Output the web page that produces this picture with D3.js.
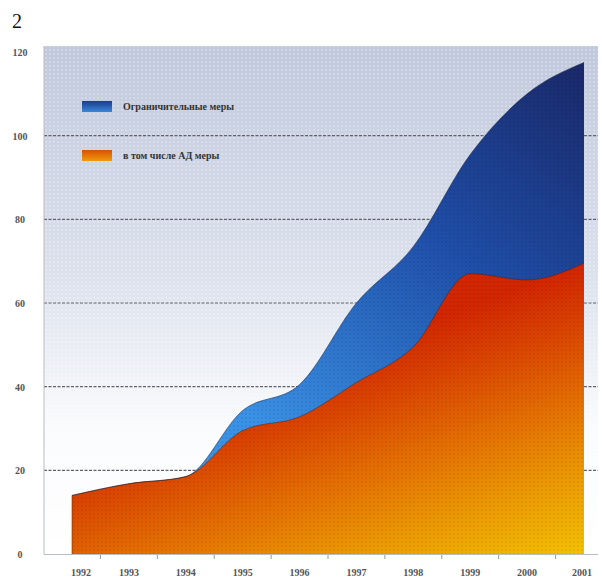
<!DOCTYPE html>
<html><head><meta charset="utf-8">
<script src="https://cdn.jsdelivr.net/npm/d3@7"></script>
<style>html,body{margin:0;padding:0;background:#fff;} svg{display:block;}</style>
</head><body>
<script>
const years = [1992,1993,1994,1995,1996,1997,1998,1999,2000,2001];
const totalMeasures = [14,16.8,18.5,34.3,40.5,60,73.5,95.5,110,117.5];
const adMeasures    = [14,16.8,18.5,29.5,32.8,41,49.5,67,65.5,69.5];
const yTicks = [0,20,40,60,80,100,120];
const legendLabels = ["Ограничительные меры","в том числе АД меры"];
const pageLabel = "2";

const W = 602, H = 579;
const svg = d3.select("body").append("svg").attr("width", W).attr("height", H);
const defs = svg.append("defs");

const x = d3.scalePoint().domain(years).range([72, 584]);
const y = d3.scaleLinear().domain([0, 120]).range([554, 52]);
const plotL = 44, plotR = 598, plotT = 46;

// gradients
const bg = defs.append("linearGradient").attr("id","bg").attr("gradientUnits","userSpaceOnUse")
  .attr("x1",0).attr("y1",plotT).attr("x2",0).attr("y2",y(0));
bg.append("stop").attr("offset","0").attr("stop-color","#c0c8dc");
bg.append("stop").attr("offset","0.45").attr("stop-color","#dce1ec");
bg.append("stop").attr("offset","0.75").attr("stop-color","#fafbfd");
bg.append("stop").attr("offset","1").attr("stop-color","#ffffff");

const gb = defs.append("linearGradient").attr("id","gblue").attr("gradientUnits","userSpaceOnUse")
  .attr("x1",560).attr("y1",60).attr("x2",260).attr("y2",430);
gb.append("stop").attr("offset","0").attr("stop-color","#1a2a6c");
gb.append("stop").attr("offset","0.45").attr("stop-color","#1f4ea8");
gb.append("stop").attr("offset","1").attr("stop-color","#3a92e6");

const gr = defs.append("linearGradient").attr("id","gred").attr("gradientUnits","userSpaceOnUse")
  .attr("x1",300).attr("y1",365).attr("x2",390).attr("y2",623);
gr.append("stop").attr("offset","0").attr("stop-color","#d22600");
gr.append("stop").attr("offset","0.2").attr("stop-color","#da4400");
gr.append("stop").attr("offset","0.45").attr("stop-color","#e46e00");
gr.append("stop").attr("offset","0.72").attr("stop-color","#ec9a00");
gr.append("stop").attr("offset","1").attr("stop-color","#f4c200");

const pat = defs.append("pattern").attr("id","dots").attr("patternUnits","userSpaceOnUse")
  .attr("width",4).attr("height",4);
pat.append("circle").attr("cx",2).attr("cy",2).attr("r",0.8).attr("fill","#ffffff").attr("opacity",0.55);
const pat2 = defs.append("pattern").attr("id","dots2").attr("patternUnits","userSpaceOnUse")
  .attr("width",4).attr("height",4);
pat2.append("circle").attr("cx",2).attr("cy",2).attr("r",0.7).attr("fill","#000").attr("opacity",0.18);

// background
svg.append("rect").attr("x",plotL).attr("y",plotT).attr("width",plotR-plotL).attr("height",y(0)-plotT).attr("fill","url(#bg)");
svg.append("rect").attr("x",plotL).attr("y",plotT).attr("width",plotR-plotL).attr("height",y(0)-plotT).attr("fill","url(#dots)");

// gridlines
svg.append("g").selectAll("line").data(yTicks.filter(d => d > 0 && d < 120)).join("line")
  .attr("x1",plotL).attr("x2",plotR).attr("y1",d=>y(d)).attr("y2",d=>y(d))
  .attr("stroke","#5f636c").attr("stroke-width",1.2).attr("stroke-dasharray","3,1.5");

// areas
const data = years.map((yr,i)=>({yr, t: totalMeasures[i], a: adMeasures[i]}));
const areaTotal = d3.area().x(d=>x(d.yr)).y0(y(0)).y1(d=>y(d.t)).curve(d3.curveMonotoneX);
const areaAd = d3.area().x(d=>x(d.yr)).y0(y(0)).y1(d=>y(d.a)).curve(d3.curveMonotoneX);
svg.append("path").datum(data).attr("d",areaTotal).attr("fill","url(#gblue)");
svg.append("path").datum(data).attr("d",areaTotal).attr("fill","url(#dots2)");
svg.append("path").datum(data).attr("d",areaAd).attr("fill","url(#gred)");
svg.append("path").datum(data).attr("d",areaAd).attr("fill","url(#dots2)");
const lineTotal = d3.line().x(d=>x(d.yr)).y(d=>y(d.t)).curve(d3.curveMonotoneX);
const lineAd = d3.line().x(d=>x(d.yr)).y(d=>y(d.a)).curve(d3.curveMonotoneX);
svg.append("path").datum(data).attr("d",lineTotal).attr("fill","none").attr("stroke","#1a2040").attr("stroke-opacity",0.5).attr("stroke-width",1);
svg.append("path").datum(data).attr("d",lineAd).attr("fill","none").attr("stroke","#402010").attr("stroke-opacity",0.45).attr("stroke-width",1);
svg.append("line").attr("x1",x(years[0])).attr("x2",x(years[0])).attr("y1",y(0)).attr("y2",y(adMeasures[0]))
  .attr("stroke","#402010").attr("stroke-opacity",0.5).attr("stroke-width",1);

// axes lines
svg.append("line").attr("x1",plotL).attr("x2",plotL).attr("y1",plotT).attr("y2",y(0)).attr("stroke","#b8bcc4");
svg.append("line").attr("x1",plotL).attr("x2",plotR).attr("y1",y(0)+0.5).attr("y2",y(0)+0.5).attr("stroke","#b8bcc4");

// x ticks at midpoints
const mids = years.slice(0,-1).map((yr,i)=>(x(yr)+x(years[i+1]))/2);
svg.append("g").selectAll("line").data(mids).join("line")
  .attr("x1",d=>d).attr("x2",d=>d).attr("y1",y(0)+1).attr("y2",y(0)+5).attr("stroke","#999");

// x labels
svg.append("g").selectAll("text").data(years).join("text")
  .attr("x",(d,i)=> i===0 ? x(d)+9 : (i===years.length-1 ? x(d)-2 : x(d)))
  .attr("y",576).attr("text-anchor","middle")
  .attr("font-family","Liberation Serif, DejaVu Serif, serif").attr("font-size",10).attr("font-weight","bold")
  .attr("fill","#555").text(d=>d);

// y labels
svg.append("g").selectAll("text").data(yTicks).join("text")
  .attr("x",20).attr("y",d=>y(d)+4).attr("text-anchor","middle")
  .attr("font-family","Liberation Serif, DejaVu Serif, serif").attr("font-size",10).attr("font-weight","bold")
  .attr("fill","#555").text(d=>d);

// page label
svg.append("text").attr("x",12).attr("y",28).attr("font-family","Liberation Serif, serif").attr("font-size",20)
  .attr("fill","#111").text(pageLabel);

// legend
const lgB = defs.append("linearGradient").attr("id","lgb").attr("x1",0).attr("y1",0).attr("x2",0).attr("y2",1);
lgB.append("stop").attr("offset","0").attr("stop-color","#1c3c8c");
lgB.append("stop").attr("offset","1").attr("stop-color","#3a86d8");
const lgR = defs.append("linearGradient").attr("id","lgr").attr("x1",0).attr("y1",0).attr("x2",0).attr("y2",1);
lgR.append("stop").attr("offset","0").attr("stop-color","#d85000");
lgR.append("stop").attr("offset","1").attr("stop-color","#f09a10");
const legend = svg.append("g");
[["url(#lgb)",101],["url(#lgr)",150]].forEach(([f,yy],i)=>{
  legend.append("rect").attr("x",82).attr("y",yy).attr("width",30).attr("height",11).attr("fill",f);
  legend.append("text").attr("x",123).attr("y",yy+9).attr("font-family","Liberation Serif, serif")
    .attr("font-size",10).attr("font-weight","bold").attr("fill","#333").text(legendLabels[i]);
});
</script>
</body></html>
